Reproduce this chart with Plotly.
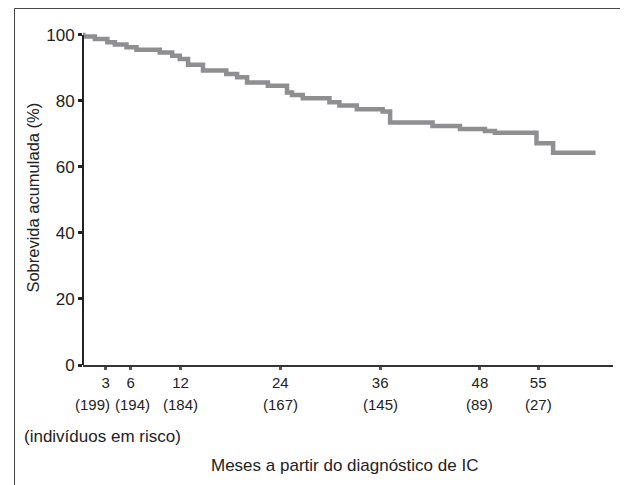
import plotly.graph_objects as go

# Kaplan-Meier step data (months, cumulative survival %)
step_months = [0, 0.3, 1.7, 3.2, 4.1, 5.5, 6.7, 9.5, 11.0, 11.9, 12.9, 14.7, 17.5,
               18.8, 20.0, 22.5, 24.8, 25.4, 26.7, 29.9, 31.1, 33.2, 36.3, 37.2,
               42.3, 45.6, 48.6, 49.8, 54.8, 56.8, 61.9]
survival = [100, 99.5, 98.8, 97.8, 97.1, 96.3, 95.5, 94.7, 93.7, 92.7, 91.0, 89.2,
            88.2, 87.2, 85.6, 84.6, 82.6, 81.8, 80.8, 79.6, 78.6, 77.5, 76.8, 73.5,
            72.4, 71.5, 70.9, 70.4, 67.2, 64.3, 64.3]

tick_months = [3, 6, 12, 24, 36, 48, 55]
tick_labels = ["3", "6", "12", "24", "36", "48", "55"]
at_risk = [199, 194, 184, 167, 145, 89, 27]
risk_shift = [-13, 2, 0, 0, 0, 0, 0]

y_ticks = [0, 20, 40, 60, 80, 100]

FONT = "Liberation Sans"
TXT = "#222222"

fig = go.Figure()
fig.add_trace(go.Scatter(
    x=step_months, y=survival, mode="lines",
    line=dict(shape="hv", color="#8f8f92", width=4.5),
    showlegend=False, hoverinfo="skip"))

annotations = []
for m, r, s in zip(tick_months, at_risk, risk_shift):
    annotations.append(dict(x=m, y=-0.1194, xref="x", yref="paper",
                            text=f"({r})", showarrow=False, xanchor="center",
                            yanchor="middle", xshift=s,
                            font=dict(family=FONT, size=15, color=TXT)))
annotations.append(dict(x=-0.1157, y=-0.214, xref="paper", yref="paper",
                        text="(indivíduos em risco)", showarrow=False,
                        xanchor="left", yanchor="middle",
                        font=dict(family=FONT, size=17, color=TXT)))
annotations.append(dict(x=0.494, y=-0.3, xref="paper", yref="paper",
                        text="Meses a partir do diagnóstico de IC", showarrow=False,
                        xanchor="center", yanchor="middle",
                        font=dict(family=FONT, size=17, color=TXT)))
annotations.append(dict(x=-0.096, y=0.5, xref="paper", yref="paper",
                        text="Sobrevida acumulada (%)", showarrow=False,
                        textangle=-90, xanchor="center", yanchor="middle",
                        font=dict(family=FONT, size=16.5, color=TXT)))

shapes = [
    # outer frame
    dict(type="rect", xref="paper", yref="paper", x0=-0.1292, x1=1.0226,
         y0=-0.45, y1=1.0642, line=dict(color="#444444", width=1)),
    # y axis line from 0 to 100
    dict(type="line", xref="paper", yref="y", x0=0, x1=0, y0=0, y1=100,
         line=dict(color="#222222", width=2)),
]

# the page body adds an 8px offset; the figure is sized to fill the rest
fig.update_layout(
    width=620, height=477,
    margin=dict(l=75, r=15, t=22, b=120),
    paper_bgcolor="white", plot_bgcolor="white",
    font=dict(family=FONT, color=TXT),
    annotations=annotations, shapes=shapes,
    xaxis=dict(range=[0.27, 64], showgrid=False, zeroline=False,
               showline=True, linecolor="#333333", linewidth=1.5,
               tickmode="array", tickvals=tick_months, ticktext=tick_labels,
               ticks="outside", ticklen=3, tickwidth=3, tickcolor="#555555",
               tickfont=dict(family=FONT, size=15, color=TXT)),
    yaxis=dict(range=[0, 101.5], showgrid=False, zeroline=False,
               showline=False, tickmode="array", tickvals=y_ticks,
               ticks="outside", ticklen=4, tickwidth=3, tickcolor="#222222",
               tickfont=dict(family=FONT, size=17, color=TXT)),
)

fig.write_html("out.html")
